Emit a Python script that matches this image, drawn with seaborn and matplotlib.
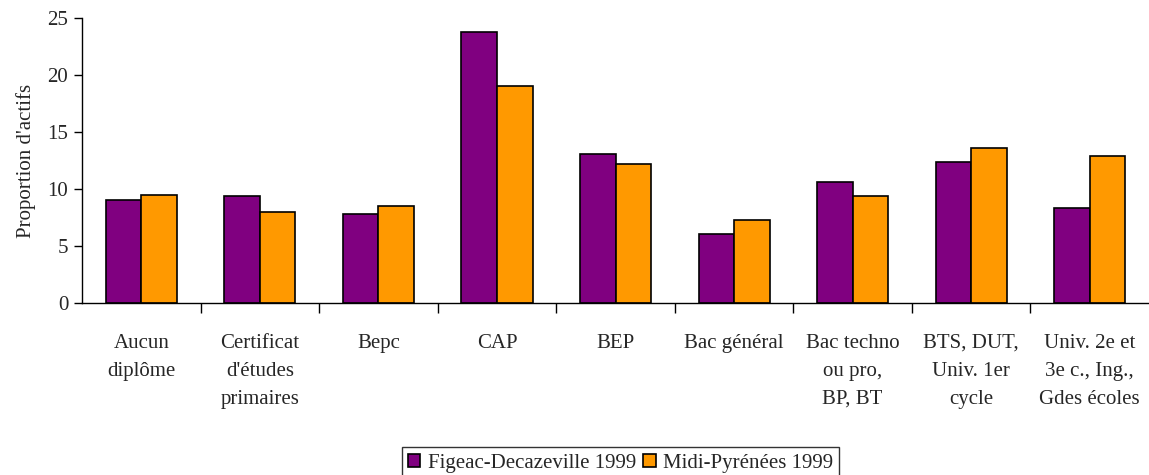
import pandas as pd
import numpy as np
import matplotlib.pyplot as plt
import seaborn as sns
from matplotlib.ticker import FixedLocator

# Données
categories = ["Aucun\ndiplôme", "Certificat\nd'études\nprimaires", "Bepc", "CAP", "BEP",
              "Bac général", "Bac techno\nou pro,\nBP, BT", "BTS, DUT,\nUniv. 1er\ncycle",
              "Univ. 2e et\n3e c., Ing.,\nGdes écoles"]
figeac = [9.0, 9.4, 7.8, 23.8, 13.1, 6.1, 10.6, 12.4, 8.3]
midi = [9.5, 8.0, 8.5, 19.0, 12.2, 7.3, 9.4, 13.6, 12.9]
series = ["Figeac-Decazeville 1999", "Midi-Pyrénées 1999"]

data = pd.DataFrame({
    'cat': categories * 2,
    'val': figeac + midi,
    'serie': [series[0]] * len(categories) + [series[1]] * len(categories),
})

sns.set_style("white")
plt.rcParams['font.family'] = ['Liberation Serif', 'DejaVu Serif']

fig = plt.figure(figsize=(11.49, 4.75), dpi=100)
ax = fig.add_axes([0.0714, 0.362, 0.9286, 0.6])

sns.barplot(data=data, x='cat', y='val', hue='serie', palette=['#800080', '#FF9900'],
            saturation=1, width=0.6, gap=0, edgecolor='black', linewidth=1.2, ax=ax, legend=True)

ax.set_ylim(0, 25)
ax.set_xlim(-0.5, len(categories) - 0.5)
ax.set_yticks([0, 5, 10, 15, 20, 25])
ax.tick_params(axis='y', labelsize=15, length=6, width=1, direction='out', left=True, color='black', pad=4)
ax.tick_params(axis='x', which='major', length=0, pad=22, labelsize=15)
ax.xaxis.set_minor_locator(FixedLocator(np.arange(0.5, len(categories) - 0.5, 1)))
ax.tick_params(axis='x', which='minor', length=7, width=1, direction='out', bottom=True, color='black')
for lab in ax.get_xticklabels():
    lab.set_verticalalignment('top')
    lab.set_multialignment('center')
    lab.set_linespacing(1.65)

for side in ['top', 'right']:
    ax.spines[side].set_visible(False)
for side in ['left', 'bottom']:
    ax.spines[side].set_color('black')
    ax.spines[side].set_linewidth(1)

ax.set_xlabel('')
ax.set_ylabel("Proportion d'actifs", fontsize=15, labelpad=8)

handles, labels = ax.get_legend_handles_labels()
ax.get_legend().remove()
leg = fig.legend(handles, labels, loc='upper center', bbox_to_anchor=(0.54, 0.058), ncol=2,
                 fontsize=15, frameon=True, fancybox=False, edgecolor='black',
                 handlelength=0.6, handleheight=0.6, handletextpad=0.35, columnspacing=0.35,
                 borderpad=0.3, borderaxespad=0)
leg.get_frame().set_linewidth(1)

plt.savefig('out.png', dpi=100)
